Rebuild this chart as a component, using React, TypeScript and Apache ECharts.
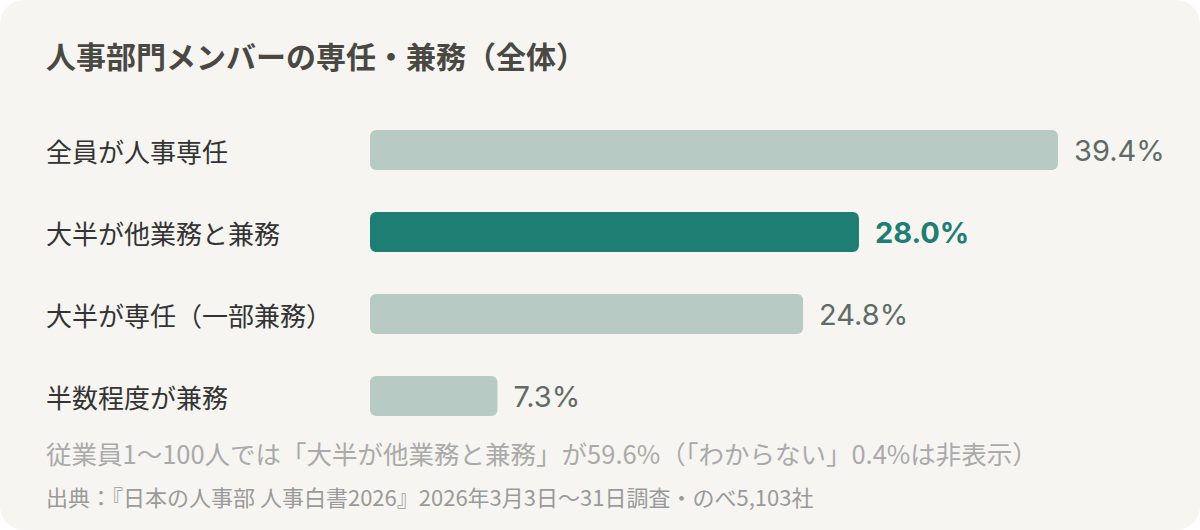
import React, { useEffect, useRef } from "react";
import * as echarts from "echarts";

const categories = ["全員が人事専任", "大半が他業務と兼務", "大半が専任（一部兼務）", "半数程度が兼務"];
const values = [39.4, 28.0, 24.8, 7.3];
const highlightIndex = 1;
const titleText = "人事部門メンバーの専任・兼務（全体）";
const noteText = "従業員1〜100人では「大半が他業務と兼務」が59.6%（「わからない」0.4%は非表示）";
const sourceText = "出典：『日本の人事部 人事白書2026』2026年3月3日〜31日調査・のべ5,103社";

const FONT = "'Noto Sans CJK JP', 'Noto Sans', sans-serif";

export default function App() {
  const ref = useRef<HTMLDivElement>(null);
  useEffect(() => {
    document.body.style.margin = "0";
    const chart = echarts.init(ref.current!, null, { renderer: "svg" });
    chart.setOption({
      animation: false,
      backgroundColor: "transparent",
      textStyle: { fontFamily: FONT },
      graphic: [
        {
          type: "text",
          left: 46,
          top: 40,
          style: {
            text: titleText,
            fontSize: 30,
            fontWeight: "bold",
            fill: "#4a4843",
            fontFamily: FONT,
          },
        },
        {
          type: "text",
          left: 46,
          top: 440,
          style: { text: noteText, fontSize: 25.5, fill: "#aaaaaa", fontFamily: FONT },
        },
        {
          type: "text",
          left: 46,
          top: 485,
          style: { text: sourceText, fontSize: 22, fill: "#9a9a9a", fontFamily: FONT },
        },
      ],
      grid: { left: 370, top: 109, width: 698.5, height: 328 },
      xAxis: {
        type: "value",
        min: 0,
        max: 40,
        show: false,
      },
      yAxis: {
        type: "category",
        data: categories,
        inverse: true,
        axisLine: { show: false },
        axisTick: { show: false },
        axisLabel: {
          align: "left",
          margin: 324,
          fontSize: 26,
          color: "#333333",
          fontFamily: FONT,
        },
      },
      series: [
        {
          type: "bar",
          barWidth: 40,
          data: values.map((v, i) => ({
            value: v,
            itemStyle: { color: i === highlightIndex ? "#1e7e74" : "#b8cac4", borderRadius: 6 },
            label: {
              show: true,
              position: "right",
              distance: 16,
              formatter: (p: any) => p.value.toFixed(1) + "%",
              fontSize: 29,
              fontFamily: "'Inter', 'Noto Sans', sans-serif",
              fontWeight: i === highlightIndex ? "bold" : "normal",
              color: i === highlightIndex ? "#1e7e74" : "#5f6b66",
            },
          })),
        },
      ],
    });
    return () => chart.dispose();
  }, []);
  return (
    <div
      style={{
        position: "absolute",
        left: 0,
        top: 0,
        width: 1200,
        height: 530,
        background: "#ffffff",
      }}
    >
      <div
        style={{
          position: "absolute",
          left: 0,
          top: 0,
          width: 1200,
          height: 530,
          background: "#f6f5f1",
          borderRadius: 24,
        }}
      >
        <div ref={ref} style={{ width: 1200, height: 530 }} />
      </div>
    </div>
  );
}
